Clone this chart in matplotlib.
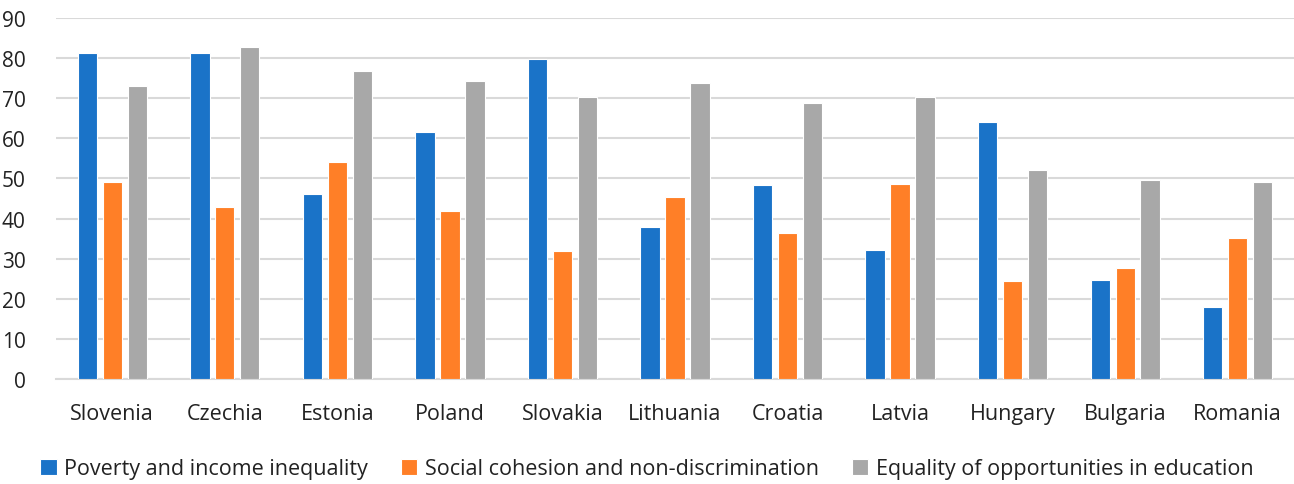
import numpy as np
import matplotlib.pyplot as plt

countries = ["Slovenia", "Czechia", "Estonia", "Poland", "Slovakia", "Lithuania",
             "Croatia", "Latvia", "Hungary", "Bulgaria", "Romania"]
poverty = [81.3, 81.3, 46.0, 61.6, 79.9, 37.8, 48.4, 32.2, 64.0, 24.8, 18.0]
cohesion = [49.0, 42.9, 54.1, 41.9, 32.0, 45.4, 36.4, 48.6, 24.4, 27.7, 35.2]
education = [73.1, 82.8, 76.7, 74.3, 70.3, 73.9, 68.8, 70.2, 52.1, 49.5, 49.1]
series_names = ["Poverty and income inequality",
                "Social cohesion and non-discrimination",
                "Equality of opportunities in education"]
colors = ["#1a73c8", "#ff7f27", "#a8a8a8"]

plt.rcParams['font.family'] = ['Open Sans', 'DejaVu Sans']

fig = plt.figure(figsize=(12.94, 4.85), dpi=100)
ax = fig.add_axes([56/1294, 1-380/485, (1294-56)/1294, (380-19)/485])

x = np.arange(len(countries))
w = 0.172
step = 0.222
for i, vals in enumerate([poverty, cohesion, education]):
    ax.bar(x + (i-1)*step, vals, width=w, color=colors[i], edgecolor='white',
           linewidth=0.8, label=series_names[i], zorder=3)

ax.set_xlim(-0.5, len(countries)-0.5)
ax.set_ylim(0, 90)
ax.set_yticks(range(0, 91, 10))
ax.grid(axis='y', color='#d9d9d9', linewidth=1.5, zorder=0)
for s in ['top', 'right', 'left']:
    ax.spines[s].set_visible(False)
ax.spines['bottom'].set_color('#d9d9d9')
ax.spines['bottom'].set_linewidth(1.5)
ax.tick_params(axis='both', length=0, colors='#222222')
ax.tick_params(axis='y', pad=22, labelsize=15)
ax.tick_params(axis='x', pad=17, labelsize=15.5)
ax.set_xticks(x)
ax.set_xticklabels(countries)

leg = fig.legend(loc='center', bbox_to_anchor=(0.5, 1-470/485), ncol=3, frameon=False,
                 fontsize=15.5, handlelength=0.75, handleheight=0.75, handletextpad=0.35,
                 columnspacing=1.55)
for t in leg.get_texts():
    t.set_color('#222222')

fig.savefig("out.png", dpi=100)
